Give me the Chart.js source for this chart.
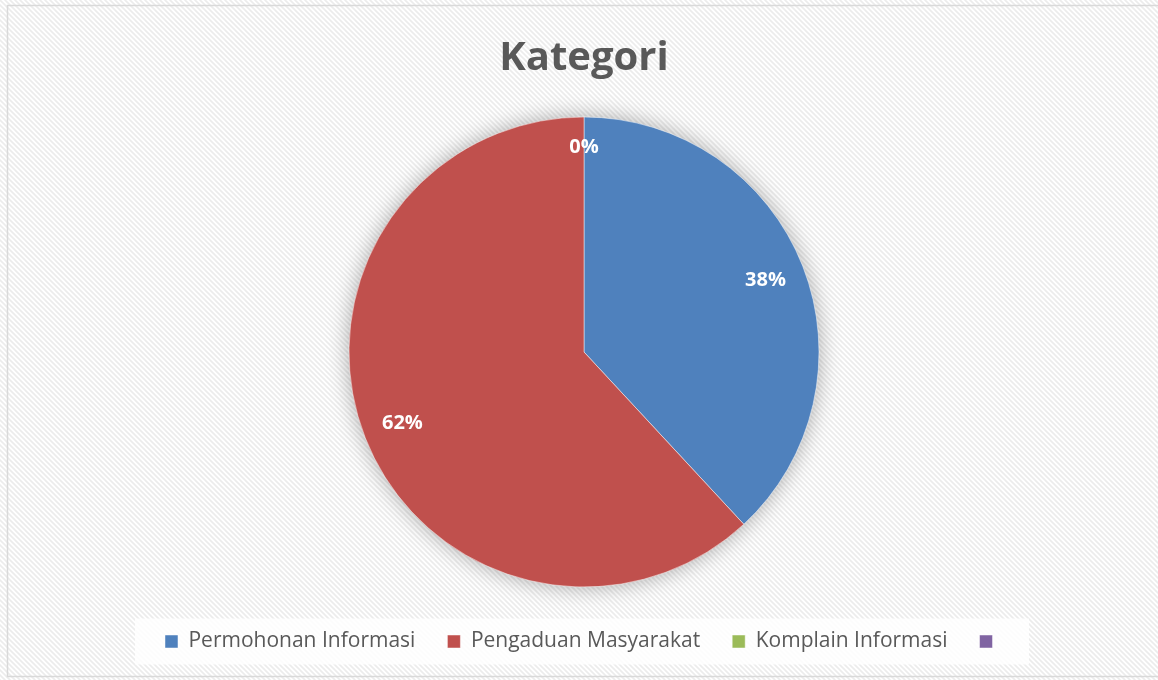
<!DOCTYPE html>
<html>
<head>
<meta charset="utf-8">
<script src="https://cdn.jsdelivr.net/npm/chart.js@4.4.1/dist/chart.umd.min.js"></script>
<style>
  html, body { margin: 0; padding: 0; background: #ffffff; }
  #wrap { width: 1158px; height: 680px; position: relative; }
</style>
</head>
<body>
<div id="wrap"><canvas id="c" width="1158" height="680"></canvas></div>
<script>
// ---- data ----
const chartTitle = 'Kategori';
const categories = ['Permohonan Informasi', 'Pengaduan Masyarakat', 'Komplain Informasi', ''];
const values = [8, 13, 0, null];
const colors = ['#4F81BD', '#C0504D', '#9BBB59', '#8064A2'];

const textColor = '#595959';

// background: white + subtle diagonal hatch + thin frame
function makePattern(ctx) {
  const t = document.createElement('canvas');
  t.width = 5; t.height = 5;
  const g = t.getContext('2d');
  g.fillStyle = '#ffffff';
  g.fillRect(0, 0, 5, 5);
  g.strokeStyle = '#ececec';
  g.lineWidth = 1.6;
  g.beginPath();
  g.moveTo(-1, -1); g.lineTo(6, 6);
  g.moveTo(-6, -1); g.lineTo(1, 6);
  g.moveTo(4, -1); g.lineTo(11, 6);
  g.stroke();
  return ctx.createPattern(t, 'repeat');
}

const backgroundPlugin = {
  id: 'bg',
  beforeDraw(chart) {
    const ctx = chart.ctx;
    ctx.save();
    ctx.fillStyle = makePattern(ctx);
    ctx.fillRect(0, 0, chart.width, chart.height);
    ctx.strokeStyle = '#d9d9d9';
    ctx.lineWidth = 1.5;
    ctx.strokeRect(7.5, 5.5, chart.width + 10, 671);
    // legend backing box
    const lg = chart.legend;
    if (lg && lg.legendHitBoxes && lg.legendHitBoxes.length) {
      const hb = lg.legendHitBoxes;
      const first = hb[0], last = hb[hb.length - 1];
      const left = first.left - 30;
      const right = last.left + last.width + 26;
      const cy = first.top + first.height / 2;
      ctx.fillStyle = 'rgba(255,255,255,0.85)';
      ctx.fillRect(left, cy - 23, right - left, 46);
    }
    ctx.restore();
  },
  beforeDatasetsDraw(chart) {
    const meta = chart.getDatasetMeta(0);
    const arc = meta.data[0];
    if (!arc) return;
    const p = arc.getProps(['x', 'y', 'outerRadius'], true);
    const ctx = chart.ctx;
    ctx.save();
    ctx.shadowColor = 'rgba(0,0,0,0.35)';
    ctx.shadowBlur = 22;
    ctx.shadowOffsetX = 0;
    ctx.shadowOffsetY = 0;
    ctx.fillStyle = '#ffffff';
    ctx.beginPath();
    ctx.arc(p.x, p.y, p.outerRadius - 1, 0, Math.PI * 2);
    ctx.fill();
    ctx.restore();
  }
};

const labelPlugin = {
  id: 'pctLabels',
  afterDatasetsDraw(chart) {
    const ds = chart.data.datasets[0];
    const meta = chart.getDatasetMeta(0);
    const total = ds.data.reduce((s, v) => s + (v || 0), 0);
    const ctx = chart.ctx;
    ctx.save();
    ctx.fillStyle = '#ffffff';
    ctx.font = 'bold 20px "Open Sans", sans-serif';
    ctx.textAlign = 'center';
    ctx.textBaseline = 'middle';
    meta.data.forEach((arc, i) => {
      const v = ds.data[i];
      if (v === null || v === undefined) return;
      const p = arc.getProps(['x', 'y', 'startAngle', 'endAngle', 'outerRadius'], true);
      const mid = (p.startAngle + p.endAngle) / 2;
      const f = v === 0 ? 0.87 : 0.83;
      const x = p.x + Math.cos(mid) * p.outerRadius * f;
      const y = p.y + Math.sin(mid) * p.outerRadius * f;
      ctx.fillText(Math.round(v / total * 100) + '%', x, y);
    });
    ctx.restore();
  }
};

new Chart(document.getElementById('c'), {
  type: 'pie',
  data: {
    labels: categories,
    datasets: [{
      data: values,
      backgroundColor: colors,
      borderColor: 'rgba(255,255,255,0.6)',
      borderWidth: 0.8,
      radius: 235,
      clip: false
    }]
  },
  options: {
    responsive: false,
    animation: false,
    devicePixelRatio: 1,
    layout: { padding: { top: 0, bottom: 18, left: 10, right: 0 } },
    plugins: {
      title: {
        display: true,
        text: chartTitle,
        color: textColor,
        font: { family: '"Open Sans", sans-serif', size: 40, weight: 'bold', lineHeight: 1.2 },
        padding: { top: 35, bottom: 22 }
      },
      legend: {
        display: true,
        position: 'bottom',
        labels: {
          color: textColor,
          font: { family: '"Open Sans", sans-serif', size: 21 },
          boxWidth: 13,
          boxHeight: 13,
          padding: 32
        }
      },
      tooltip: { enabled: false }
    }
  },
  plugins: [backgroundPlugin, labelPlugin]
});
</script>
</body>
</html>
